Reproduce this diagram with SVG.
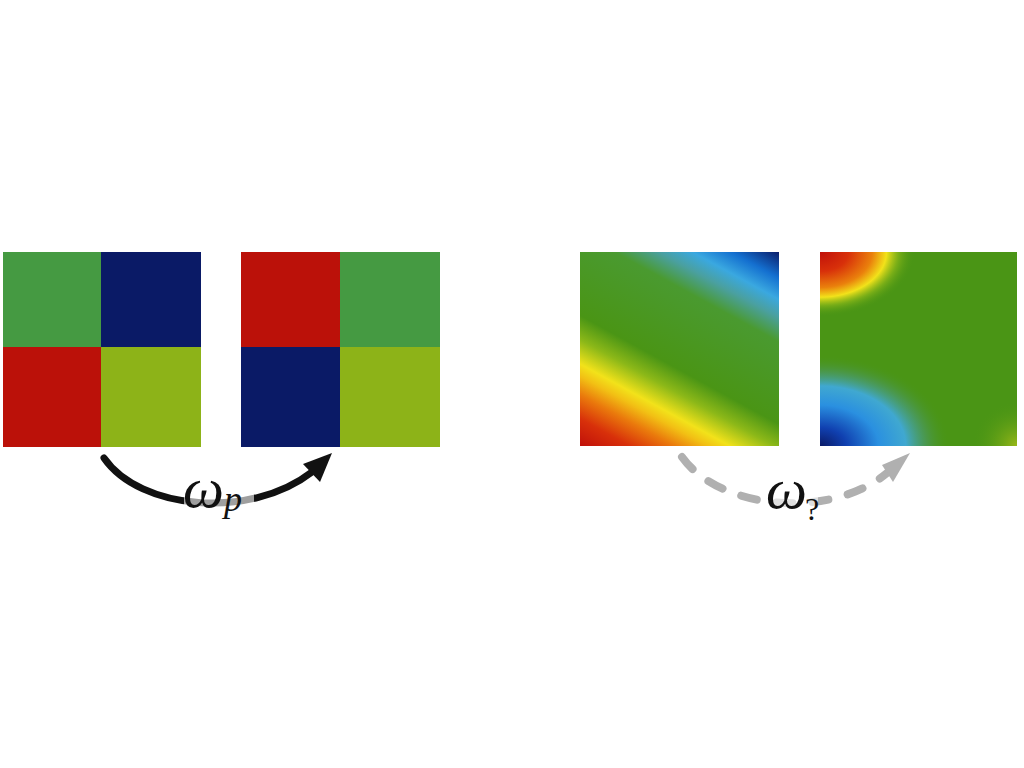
<svg xmlns="http://www.w3.org/2000/svg" width="1024" height="768" viewBox="0 0 1024 768">
<style>
.g{fill:#459a42}.n{fill:#0a1a66}.r{fill:#bb1109}.l{fill:#8db318}
.lbl{font-family:"Liberation Serif","DejaVu Serif",serif;font-style:italic;fill:#111}
.q{font-family:"Liberation Serif","DejaVu Serif",serif;fill:#111}
.veil{fill:#fff;fill-opacity:0.6}
</style>
<defs>
<linearGradient id="gA" gradientUnits="userSpaceOnUse" x1="580" y1="446" x2="708" y2="212">
<stop offset="0" stop-color="#c0100a"/>
<stop offset="0.09" stop-color="#d8300a"/>
<stop offset="0.17" stop-color="#ea7a0c"/>
<stop offset="0.23" stop-color="#f2c014"/>
<stop offset="0.27" stop-color="#f2e21a"/>
<stop offset="0.35" stop-color="#8cb818"/>
<stop offset="0.43" stop-color="#4a9515"/>
<stop offset="0.7" stop-color="#4a9a30"/>
<stop offset="0.78" stop-color="#4aa0a0"/>
<stop offset="0.84" stop-color="#3aa8e0"/>
<stop offset="0.91" stop-color="#1470d0"/>
<stop offset="1" stop-color="#0a1a66"/>
</linearGradient>
<radialGradient id="gTL" gradientUnits="userSpaceOnUse" cx="820" cy="252" r="95" gradientTransform="translate(820 252) scale(1 0.68) translate(-820 -252)">
<stop offset="0" stop-color="#c0100a"/>
<stop offset="0.3" stop-color="#d8300a"/>
<stop offset="0.55" stop-color="#ea800c"/>
<stop offset="0.7" stop-color="#f2e21a"/>
<stop offset="0.83" stop-color="#8cb818" stop-opacity="0.7"/>
<stop offset="1" stop-color="#4a9515" stop-opacity="0"/>
</radialGradient>
<radialGradient id="gBL" gradientUnits="userSpaceOnUse" cx="820" cy="446" r="130" gradientTransform="translate(820 446) scale(1 0.7) translate(-820 -446)">
<stop offset="0" stop-color="#0a1a66"/>
<stop offset="0.2" stop-color="#1040b0"/>
<stop offset="0.45" stop-color="#2a90e0"/>
<stop offset="0.66" stop-color="#40a8d0"/>
<stop offset="0.82" stop-color="#4a9a70" stop-opacity="0.6"/>
<stop offset="1" stop-color="#4a9515" stop-opacity="0"/>
</radialGradient>
<radialGradient id="gBR" gradientUnits="userSpaceOnUse" cx="1017" cy="446" r="45">
<stop offset="0" stop-color="#9ab818"/>
<stop offset="1" stop-color="#4a9515" stop-opacity="0"/>
</radialGradient>
</defs>

<g id="grid-left">
<rect class="g" x="3" y="252" width="98" height="95"/>
<rect class="n" x="101" y="252" width="100" height="95"/>
<rect class="r" x="3" y="347" width="98" height="100"/>
<rect class="l" x="101" y="347" width="100" height="100"/>
</g>
<g id="grid-right">
<rect class="r" x="241" y="252" width="99" height="95"/>
<rect class="g" x="340" y="252" width="100" height="95"/>
<rect class="n" x="241" y="347" width="99" height="100"/>
<rect class="l" x="340" y="347" width="100" height="100"/>
</g>
<g id="field-left">
<rect x="580" y="252" width="199" height="194" fill="url(#gA)"/>
</g>
<g id="field-right">
<rect x="820" y="252" width="197" height="194" fill="#4a9515"/>
<rect x="820" y="252" width="197" height="194" fill="url(#gBR)"/>
<rect x="820" y="252" width="197" height="194" fill="url(#gTL)"/>
<rect x="820" y="252" width="197" height="194" fill="url(#gBL)"/>
</g>

<g id="connectors">
<path d="M104,458 C140,510 250,520 312,472" fill="none" stroke="#111" stroke-width="7" stroke-linecap="round"/>
<polygon points="332,453 303,464 320,482" fill="#111"/>
<path d="M682,457 C720,510 830,520 887,473" fill="none" stroke="#b0b0b0" stroke-width="8" stroke-linecap="round" stroke-dasharray="16 20"/>
<polygon points="910,453 882,465 893,482" fill="#b0b0b0"/>
</g>

<g id="label-wp">
<rect class="veil" x="184" y="492" width="70" height="20"/>
<text class="lbl" x="183" y="507" font-size="58">ω</text>
<text class="lbl" x="224" y="511" font-size="36">p</text>
</g>
<g id="label-wq">
<rect class="veil" x="772" y="494" width="46" height="18"/>
<text class="lbl" x="766" y="508" font-size="58">ω</text>
<text class="q" x="805" y="520" font-size="32">?</text>
</g>
</svg>
